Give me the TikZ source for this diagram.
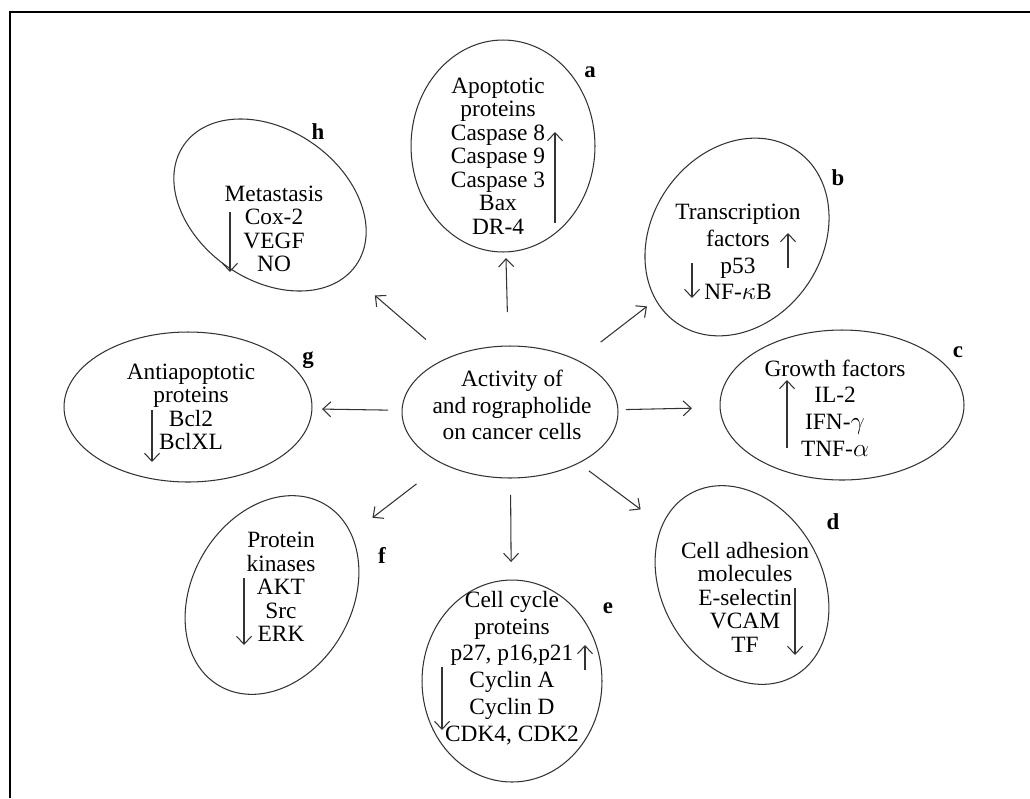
\documentclass[tikz,border=0pt]{standalone}
\usepackage{fontspec}
\setmainfont{Liberation Serif}
\usetikzlibrary{arrows.meta,shapes.geometric,calc}
\tikzset{
  oval/.style={draw=black!80, ellipse, line width=0.6pt, inner sep=0pt},
  txt/.style={align=center, inner sep=0pt, font=\fontsize{13.3}{13.4}\selectfont},
  widetxt/.style={txt, font=\fontsize{13.3}{15.2}\selectfont},
  lbl/.style={inner sep=0pt, font=\fontsize{13}{14}\selectfont\bfseries},
  arrow/.style={-{Straight Barb[length=1.6mm,width=3mm]}, draw=black!80, line width=0.6pt},
  updown/.style={arrow}
}
\begin{document}
\begin{tikzpicture}[x=0.02cm, y=-0.02cm]
  \useasboundingbox (0,0) rectangle (1030,798);
  % frame
  \draw[line width=1.4pt] (10,798) -- (10,12) -- (1030,12);

  % centre
  \node[oval, minimum width=4.32cm, minimum height=2.64cm] (act) at (510,412) {};
  \node[widetxt] (act-t) at (512,405) {Activity of\\and rographolide\\on cancer cells};

  % ovals round the centre
  \node[oval, minimum width=3.68cm, minimum height=4.24cm] (apo) at (503,146) {};
  \node[oval, minimum width=4.2cm, minimum height=3.4cm, rotate=55] (trans) at (737,237) {};
  \node[oval, minimum width=4.88cm, minimum height=3.0cm] (growth) at (842,405) {};
  \node[oval, minimum width=4.2cm, minimum height=3.2cm, rotate=-60] (adh) at (742,585) {};
  \node[oval, minimum width=3.6cm, minimum height=4.04cm] (cyc) at (512,681) {};
  \node[oval, minimum width=4.2cm, minimum height=3.2cm, rotate=60] (kin) at (272,595) {};
  \node[oval, minimum width=4.96cm, minimum height=3.0cm] (anti) at (188,407) {};
  \node[oval, minimum width=4.2cm, minimum height=3.0cm, rotate=-35] (meta) at (270,205) {};

  % texts
  \node[txt] (apo-t) at (498,156) {Apoptotic\\proteins\\Caspase 8\\Caspase 9\\Caspase 3\\Bax\\DR-4};
  \node[widetxt] (trans-t) at (738,252) {Transcription\\factors\\p53\\NF-$\kappa$B};
  \node[widetxt] (growth-t) at (835,408) {Growth factors\\IL-2\\IFN-$\gamma$\\TNF-$\alpha$};
  \node[txt] (adh-t) at (745,597) {Cell adhesion\\molecules\\E-selectin\\VCAM\\TF};
  \node[widetxt] (cyc-t) at (512,668) {Cell cycle\\proteins\\p27, p16,p21\\Cyclin A\\Cyclin D\\CDK4, CDK2};
  \node[txt] (kin-t) at (281,587) {Protein\\kinases\\AKT\\Src\\ERK};
  \node[txt] (anti-t) at (191,407) {Antiapoptotic\\proteins\\Bcl2\\BclXL};
  \node[txt] (meta-t) at (274,229) {Metastasis\\Cox-2\\VEGF\\NO};

  % letters
  \node[lbl] (apo-l) at (590,72) {a};
  \node[lbl] (trans-l) at (838,178) {b};
  \node[lbl] (growth-l) at (958,352) {c};
  \node[lbl] (adh-l) at (833,522) {d};
  \node[lbl] (cyc-l) at (608,608) {e};
  \node[lbl] (kin-l) at (382,555) {f};
  \node[lbl] (anti-l) at (308,360) {g};
  \node[lbl] (meta-l) at (318,132) {h};

  % arrows out of the centre
  \draw[arrow] ($(act)!2.0cm!(apo)$) -- ($(act)!3.08cm!(apo)$);
  \draw[arrow] ($(act)!2.29cm!(trans)$) -- ($(act)!3.46cm!(trans)$);
  \draw[arrow] ($(act)!2.32cm!(growth)$) -- ($(act)!3.64cm!(growth)$);
  \draw[arrow] ($(act)!1.97cm!(adh)$) -- ($(act)!3.26cm!(adh)$);
  \draw[arrow] ($(act)!1.66cm!(cyc)$) -- ($(act)!3.0cm!(cyc)$);
  \draw[arrow] ($(act)!2.36cm!(kin)$) -- ($(act)!3.47cm!(kin)$);
  \draw[arrow] ($(act)!2.44cm!(anti)$) -- ($(act)!3.76cm!(anti)$);
  \draw[arrow] ($(act)!2.22cm!(meta)$) -- ($(act)!3.57cm!(meta)$);

  % up and down marks
  \draw[updown] (555,223) -- (555,132);
  \draw[updown] (788,268) -- (788,233);
  \draw[updown] (692,263) -- (692,298);
  \draw[updown] (787,448) -- (787,380);
  \draw[updown] (795,588) -- (795,655);
  \draw[updown] (585,670) -- (585,645);
  \draw[updown] (442,667) -- (442,730);
  \draw[updown] (244,578) -- (244,645);
  \draw[updown] (152,410) -- (152,462);
  \draw[updown] (230,212) -- (230,272);
\end{tikzpicture}
\end{document}
